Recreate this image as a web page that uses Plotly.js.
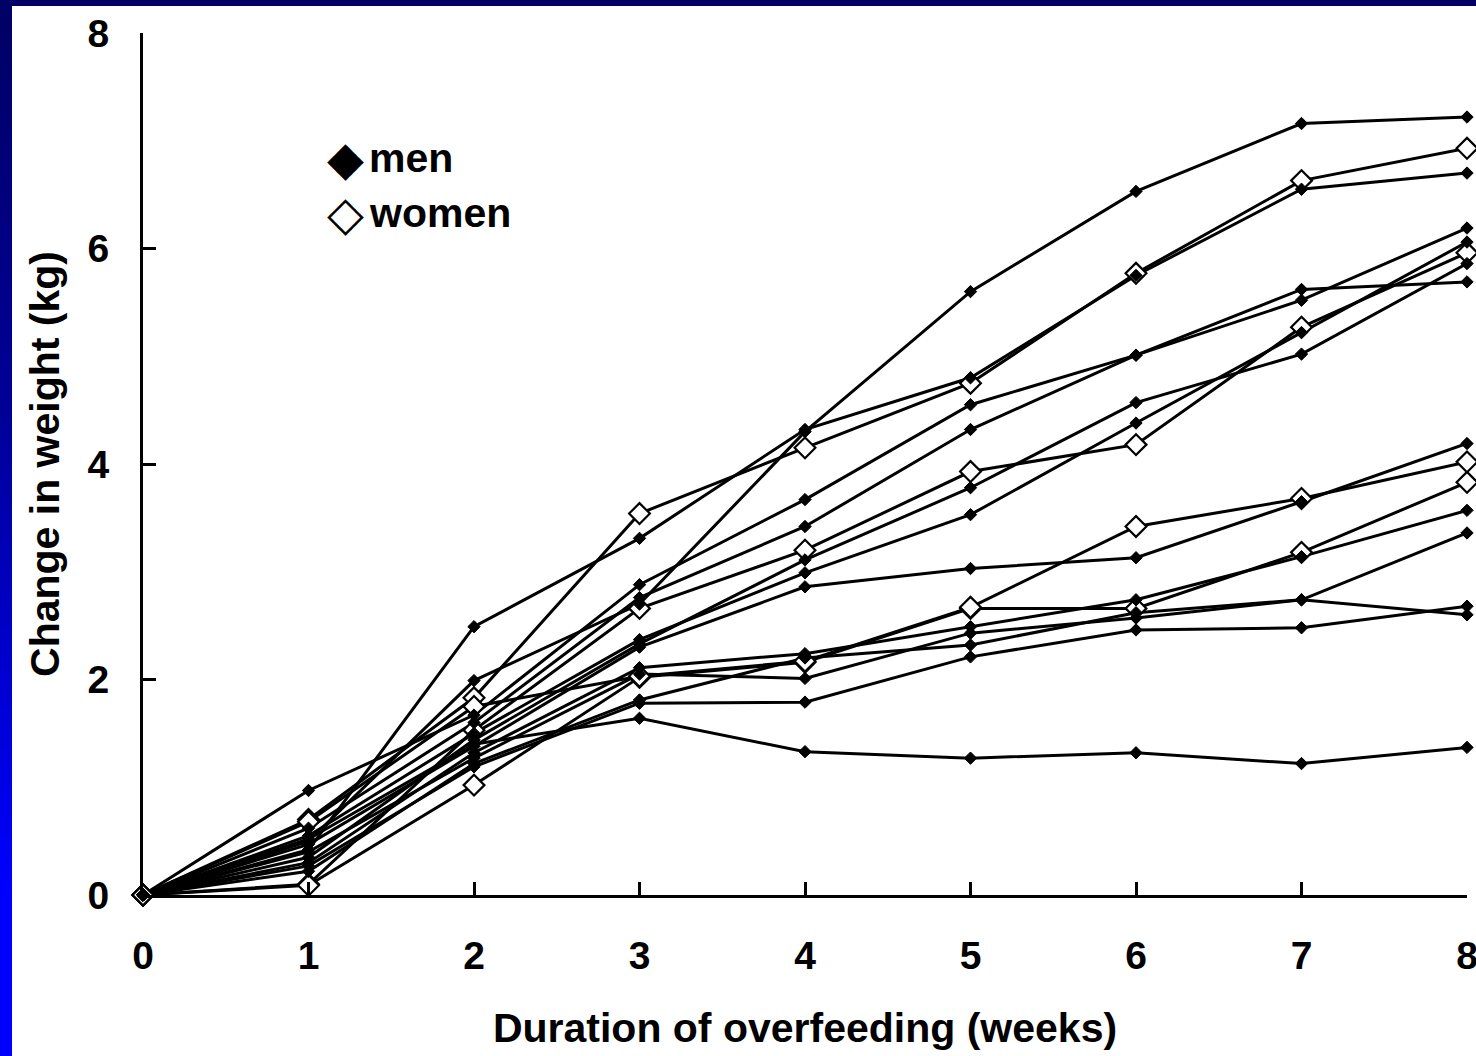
<!DOCTYPE html>
<html>
<head>
<meta charset="utf-8">
<script src="https://cdn.plot.ly/plotly-3.0.1.min.js"></script>
<style>
html,body{margin:0;padding:0;width:1476px;height:1056px;overflow:hidden;
  background:linear-gradient(to bottom,#000064 0%,#00009a 40%,#0000ff 85%,#0000ff 100%);}
#chart{position:absolute;left:12px;top:6px;width:1464px;height:1050px;background:#fff;}
</style>
</head>
<body>
<div id="chart"></div>
<script>
// Duration of overfeeding (weeks)
const weeks = [0, 1, 2, 3, 4, 5, 6, 7, 8];
const tickLabels = ["0", "1", "2", "3", "4", "5", "6", "7", "8"];
const yTicks = [0, 2, 4, 6, 8];

// Change in weight (kg) — men (filled diamonds)
const men01 = [0, 0.50, 1.99, 2.70, 4.30, 5.60, 6.53, 7.16, 7.22];
const men02 = [0, 0.42, 2.49, 3.31, 4.32, 4.80, 5.75, 6.55, 6.70];
const men03 = [0, 0.97, 1.67, 2.88, 3.67, 4.55, 5.01, 5.52, 6.19];
const men04 = [0, 0.62, 1.60, 2.76, 3.42, 4.32, 5.01, 5.62, 5.69];
const men05 = [0, 0.55, 1.50, 2.37, 2.99, 3.53, 4.38, 5.22, 6.06];
const men06 = [0, 0.35, 1.44, 2.33, 3.11, 3.78, 4.57, 5.02, 5.86];
const men07 = [0, 0.47, 1.38, 2.30, 2.86, 3.03, 3.13, 3.65, 4.19];
const men08 = [0, 0.30, 1.32, 2.11, 2.24, 2.49, 2.74, 3.14, 3.57];
const men09 = [0, 0.40, 1.27, 2.05, 2.01, 2.43, 2.57, 2.74, 3.36];
const men10 = [0, 0.22, 1.22, 1.81, 2.20, 2.32, 2.62, 2.74, 2.60];
const men11 = [0, 0.27, 1.19, 1.78, 1.79, 2.21, 2.46, 2.48, 2.68];
const men12 = [0, 0.52, 1.40, 1.64, 1.33, 1.27, 1.32, 1.22, 1.37];

// Change in weight (kg) — women (open diamonds)
const women01 = [0, 0.70, 1.83, 3.54, 4.15, 4.75, 5.77, 6.63, 6.93];
const women02 = [0, 0.10, 1.53, 2.66, 3.20, 3.93, 4.18, 5.27, 5.96];
const women03 = [0, 0.09, 1.02, 2.02, 2.16, 2.66, 2.66, 3.18, 3.83];
const women04 = [0, 0.68, 1.75, 2.03, 2.17, 2.67, 3.42, 3.68, 4.02];

const men = [men01, men02, men03, men04, men05, men06, men07, men08, men09, men10, men11, men12];
const women = [women01, women02, women03, women04];

const FONT = "'Liberation Sans', Arial, sans-serif";

const traces = [];
// lines first
men.concat(women).forEach(function (s) {
  traces.push({
    x: weeks, y: s, type: 'scatter', mode: 'lines',
    line: {color: '#000', width: 3},
    cliponaxis: false, hoverinfo: 'skip', showlegend: false
  });
});
// women markers (open diamonds)
women.forEach(function (s) {
  traces.push({
    x: weeks, y: s, type: 'scatter', mode: 'markers',
    marker: {symbol: 'diamond', size: 16, color: '#fff', line: {color: '#000', width: 2.2}},
    cliponaxis: false, showlegend: false
  });
});
// men markers (filled diamonds)
men.forEach(function (s) {
  traces.push({
    x: weeks, y: s, type: 'scatter', mode: 'markers',
    marker: {symbol: 'diamond', size: 9.5, color: '#000', line: {color: '#000', width: 1}},
    cliponaxis: false, showlegend: false
  });
});

const layout = {
  width: 1464, height: 1050,
  margin: {l: 131, r: 9, t: 27, b: 161},
  paper_bgcolor: '#fff', plot_bgcolor: '#fff',
  showlegend: false,
  font: {family: FONT, color: '#000'},
  xaxis: {
    range: [0, 8], tickvals: weeks, ticktext: tickLabels,
    showgrid: false, zeroline: false,
    showline: true, linecolor: '#000', linewidth: 3,
    ticks: 'inside', ticklen: 13, tickwidth: 3, tickcolor: '#000',
    ticklabelstandoff: 24, ticklabeloverflow: 'allow',
    tickfont: {family: FONT, size: 39, color: '#000', weight: 'bold'},
    title: {text: '<b>Duration of overfeeding (weeks)</b>', standoff: 38,
            font: {family: FONT, size: 41, color: '#000'}},
    automargin: false
  },
  yaxis: {
    range: [0, 8], tickvals: yTicks,
    showgrid: false, zeroline: false,
    showline: true, linecolor: '#000', linewidth: 3,
    ticks: 'inside', ticklen: 13, tickwidth: 3, tickcolor: '#000',
    ticklabelstandoff: 23,
    tickfont: {family: FONT, size: 39, color: '#000', weight: 'bold'},
    title: {text: '<b>Change in weight (kg)</b>', standoff: 16,
            font: {family: FONT, size: 41, color: '#000'}},
    automargin: false
  },
  annotations: [
    {xref: 'paper', yref: 'paper', x: 0.1533, y: 0.855, xanchor: 'center', yanchor: 'middle',
     text: '◆', showarrow: false, font: {family: 'DejaVu Sans', size: 48, color: '#000'}},
    {xref: 'paper', yref: 'paper', x: 0.169, y: 0.855, xanchor: 'left', yanchor: 'middle',
     text: '<b>men</b>', showarrow: false, font: {family: FONT, size: 41, color: '#000'}},
    {xref: 'paper', yref: 'paper', x: 0.1533, y: 0.791, xanchor: 'center', yanchor: 'middle',
     text: '◇', showarrow: false, font: {family: 'DejaVu Sans', size: 48, color: '#000'}},
    {xref: 'paper', yref: 'paper', x: 0.169, y: 0.791, xanchor: 'left', yanchor: 'middle',
     text: '<b>women</b>', showarrow: false, font: {family: FONT, size: 41, color: '#000'}}
  ]
};

Plotly.newPlot('chart', traces, layout, {displayModeBar: false, staticPlot: true});
</script>
</body>
</html>
